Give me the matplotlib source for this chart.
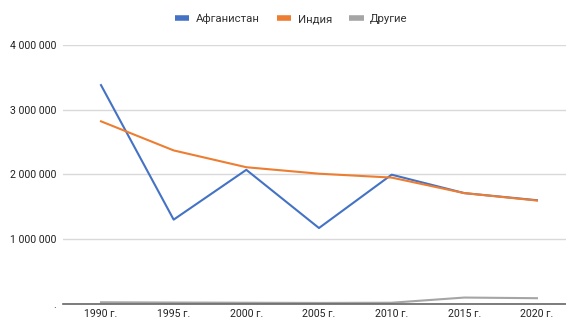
import matplotlib.pyplot as plt
from matplotlib.ticker import FuncFormatter

years = ['1990 г.', '1995 г.', '2000 г.', '2005 г.', '2010 г.', '2015 г.', '2020 г.']
afghanistan = [3380000, 1300000, 2070000, 1170000, 1995000, 1710000, 1600000]
india = [2820000, 2370000, 2110000, 2010000, 1950000, 1710000, 1595000]
others = [22000, 18000, 15000, 12000, 15000, 95000, 85000]

plt.rcParams['font.family'] = ['Roboto', 'DejaVu Sans']

fig = plt.figure(figsize=(5.66, 3.2), dpi=100)
ax = fig.add_axes([63 / 566, 16.3 / 320, 503 / 566, 258.7 / 320])

x = range(len(years))
ax.plot(x, afghanistan, color='#4472c4', lw=1.5, label='Афганистан')
ax.plot(x, india, color='#ed7d31', lw=1.5, label='Индия')
ax.plot(x, others, color='#a5a5a5', lw=1.5, label='Другие')

ax.set_xlim(-0.523, 6.4)
ax.set_ylim(0, 4000000)
ax.set_yticks([0, 1000000, 2000000, 3000000, 4000000])
ax.yaxis.set_major_formatter(FuncFormatter(
    lambda v, p: '.' if v == 0 else f'{int(v):,}'.replace(',', ' ')))
ax.set_xticks(list(x))
ax.set_xticklabels(years)

ax.grid(axis='y', color='#d9d9d9', lw=1)
ax.set_axisbelow(True)
for s in ['top', 'right', 'left']:
    ax.spines[s].set_visible(False)
ax.spines['bottom'].set_color('#666666')
ax.spines['bottom'].set_linewidth(1.2)
ax.tick_params(axis='both', length=0, labelsize=7.6, colors='#222222')
ax.tick_params(axis='y', pad=5)
ax.tick_params(axis='x', pad=4)

fig.legend(loc='center', bbox_to_anchor=(291 / 566, 1 - 19 / 320), ncol=3,
           frameon=False, fontsize=8.2, handlelength=1.3, handletextpad=0.55,
           columnspacing=1.5, labelcolor='#333333')
for line in fig.legends[0].get_lines():
    line.set_linewidth(4)
    line.set_solid_capstyle('butt')

fig.savefig('out.png', dpi=100)
